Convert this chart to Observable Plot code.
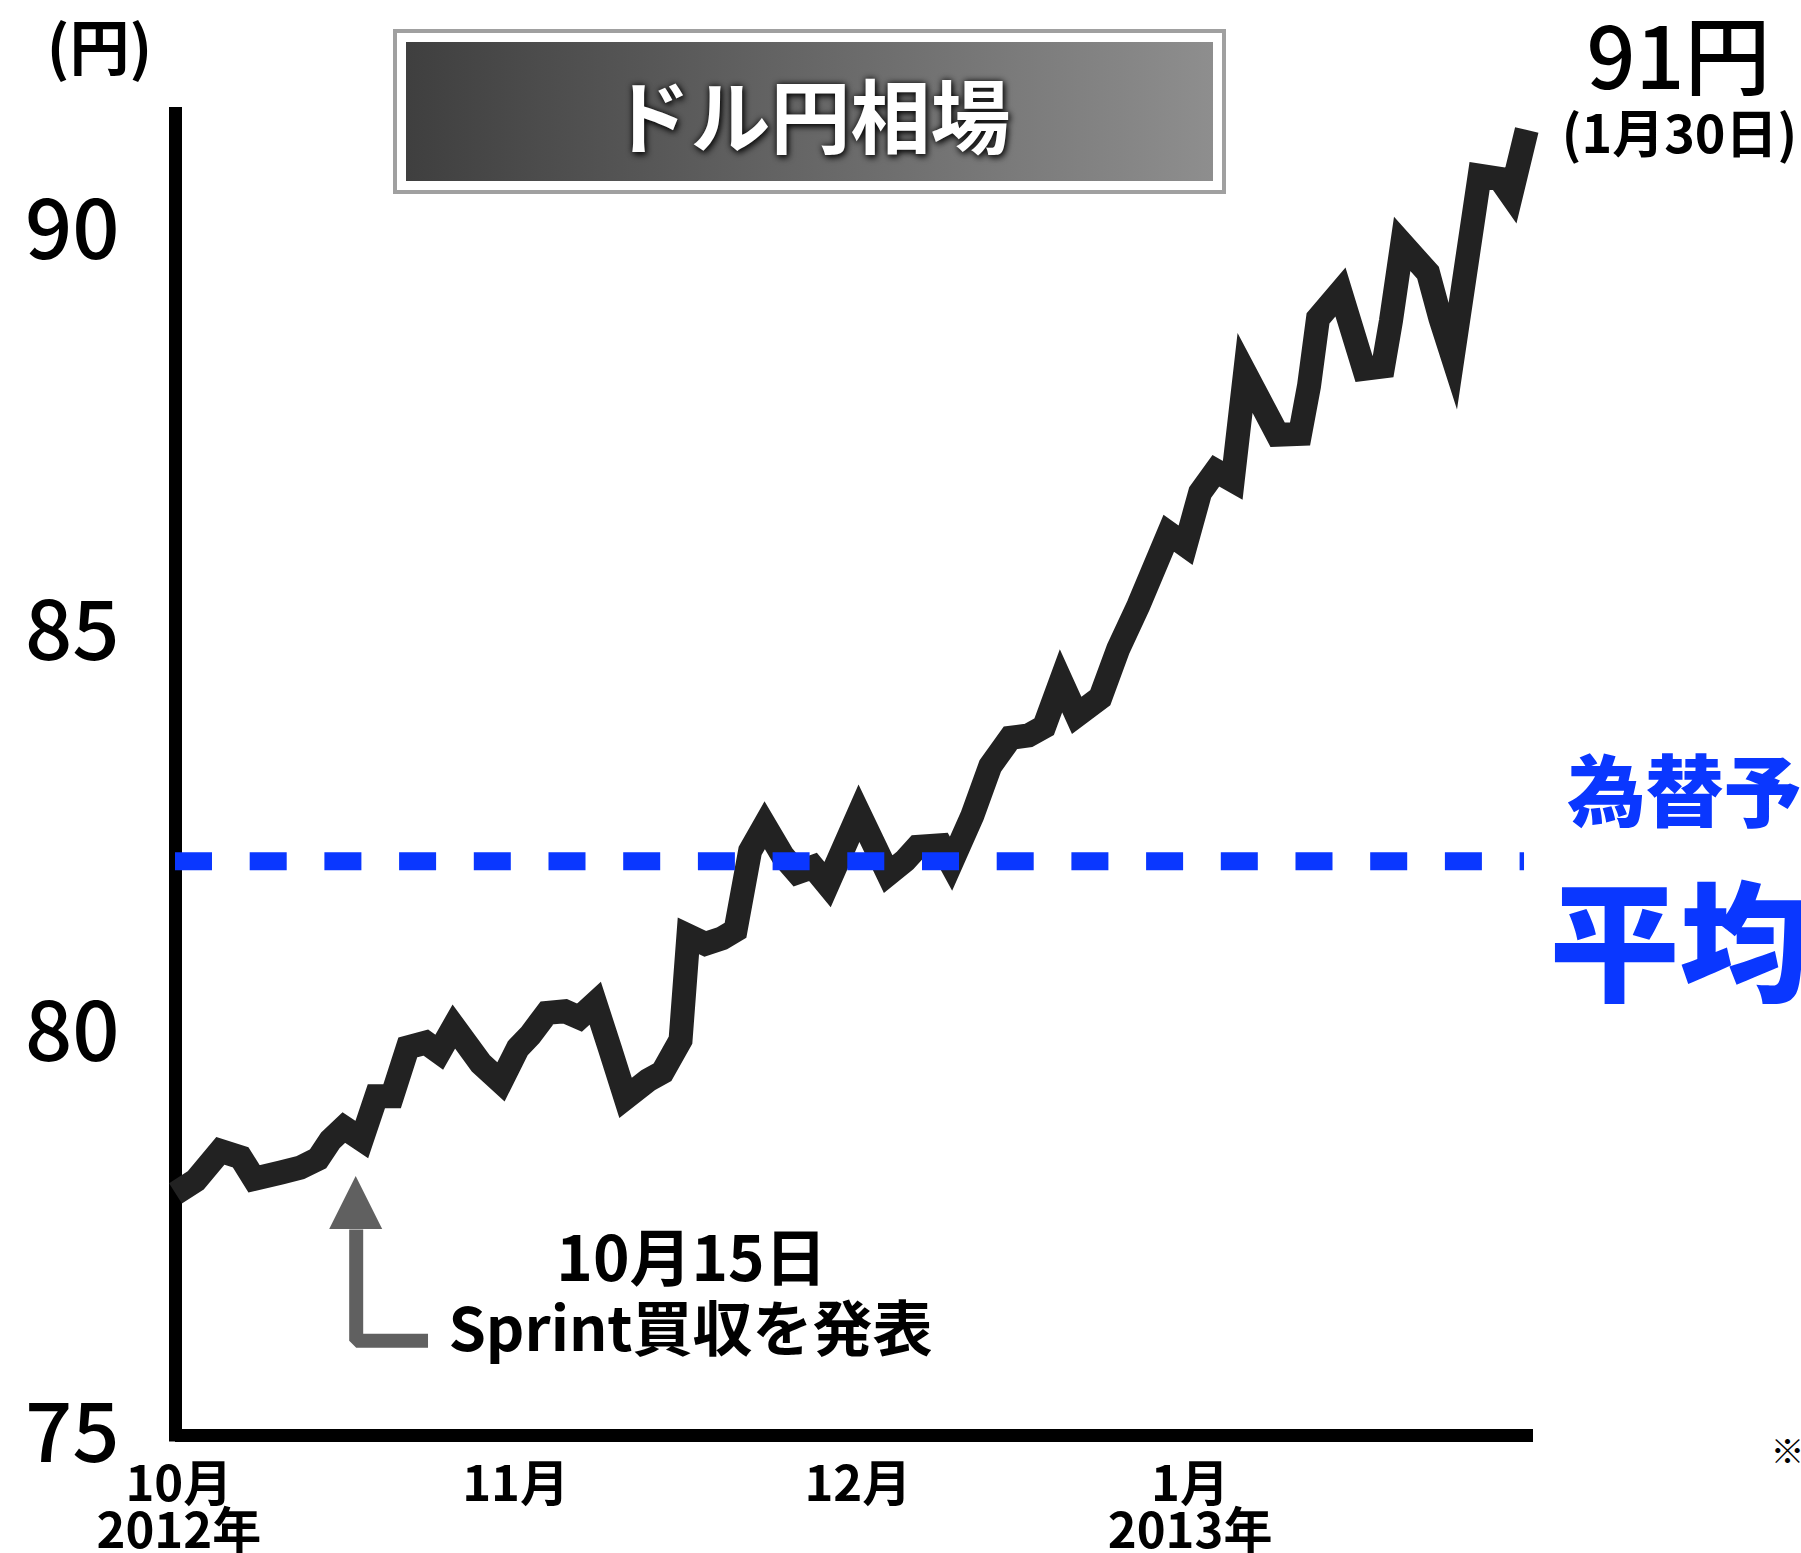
<!DOCTYPE html>
<html>
<head>
<meta charset="utf-8">
<script src="https://cdn.jsdelivr.net/npm/d3@7"></script>
<script src="https://cdn.jsdelivr.net/npm/@observablehq/plot@0.6"></script>
<style>
  html, body { margin: 0; padding: 0; background: #fff; overflow: hidden; }
  #wrap { position: relative; width: 1801px; height: 1553px; overflow: hidden; font-family: "Noto Sans CJK JP", sans-serif; }
  #chart svg { overflow: hidden; }
  #titlebox { position: absolute; left: 393px; top: 29px; width: 807px; height: 139px; border: 4px solid #a0a0a0; padding: 9px; background: #fff; }
  #titleinner { width: 100%; height: 100%; background: linear-gradient(to right, #3f3f3f, #8e8e8e);
    display: flex; align-items: center; justify-content: center; color: #fff;
    font: 700 80px "Noto Sans CJK JP", sans-serif; line-height: 1; padding-left: 2px; box-sizing: border-box;
    text-shadow: 0 0 6px rgba(0,0,0,0.9), 2px 3px 6px rgba(0,0,0,0.7); }
</style>
</head>
<body>
<div id="wrap">
  <div id="chart"></div>
  <div id="titlebox"><div id="titleinner">ドル円相場</div></div>
</div>
<script>
// Day offsets from 1 Oct 2012 and USD/JPY rate
const days = [0.0, 1.8, 4.0, 5.8, 7.0, 9.4, 11.1, 12.7, 13.8, 15.0,
  16.6, 17.9, 19.3, 20.7, 22.3, 23.5, 24.8, 27.2, 29.0, 30.5,
  31.6, 33.1, 34.7, 36.0, 37.4, 38.7, 40.1, 42.1, 43.4, 45.0,
  45.7, 47.2, 48.7, 49.9, 51.2, 52.5, 54.1, 55.4, 56.8, 58.1,
  60.9, 63.5, 65.0, 66.1, 68.2, 69.1, 71.0, 72.6, 74.4, 76.0,
  77.4, 78.9, 80.3, 82.4, 84.0, 85.8, 88.5, 90.0, 91.3, 92.7,
  94.2, 95.3, 98.2, 100.2, 101.0, 101.8, 103.8, 105.9, 107.6, 108.3,
  109.3, 111.6, 112.7, 113.8, 116.2, 118.0, 119.0, 120.4];
const rates = [78.02, 78.18, 78.55, 78.47, 78.20, 78.28, 78.34, 78.45, 78.68, 78.84,
  78.69, 79.23, 79.23, 79.84, 79.90, 79.78, 80.10, 79.64, 79.41, 79.83,
  79.99, 80.27, 80.29, 80.21, 80.39, 79.83, 79.21, 79.43, 79.53, 79.93,
  81.23, 81.13, 81.20, 81.30, 82.29, 82.61, 82.23, 82.02, 82.09, 81.87,
  82.76, 82.00, 82.17, 82.34, 82.36, 82.13, 82.73, 83.35, 83.70, 83.73,
  83.84, 84.41, 83.98, 84.20, 84.81, 85.35, 86.25, 86.10, 86.76, 87.03,
  86.91, 88.25, 87.48, 87.49, 88.09, 88.93, 89.26, 88.30, 88.33, 88.90,
  89.86, 89.50, 88.93, 88.45, 90.71, 90.67, 90.47, 91.28];
const yTicks = [75, 80, 85, 90];
const xTickDays = [0.3, 30.3, 60.8, 90.4];
const xTickLabels = ["10月\n2012年", "11月", "12月", "1月\n2013年"];
const forecastAverage = 82.16;
const forecastEndDay = 120.2;
const sprintDay = 16.1;
const sprintArrowBase = 77.57;
const sprintArrowTip = 78.23;
const sprintArrowFoot = 76.18;
const sprintArrowFootEnd = 22.5;
const sprintArrowHalfWidth = 2.36;

const series = days.map((d, i) => ({day: d, rate: rates[i]}));
const ticksX = xTickDays.map((d, i) => ({day: d, label: xTickLabels[i]}));
const arrowShaft = [
  {day: sprintDay, rate: sprintArrowBase},
  {day: sprintDay, rate: sprintArrowFoot},
  {day: sprintArrowFootEnd, rate: sprintArrowFoot}
];
const arrowHead = [
  {day: sprintDay - sprintArrowHalfWidth, tip: sprintArrowBase},
  {day: sprintDay, tip: sprintArrowTip},
  {day: sprintDay + sprintArrowHalfWidth, tip: sprintArrowBase}
];

const F = "Noto Sans CJK JP";
const blue = "#0a37ff";
const note = (text, o) => Plot.text([text], {text: d => d, frameAnchor: "top-left", lineAnchor: "bottom", fontFamily: F, fill: "#000", ...o});

const chart = Plot.plot({
  width: 1801,
  height: 1553,
  marginLeft: 175,
  marginRight: 268,
  marginTop: 107,
  marginBottom: 118,
  style: {fontFamily: F, background: "#fff"},
  x: {domain: [0, 121], axis: null},
  y: {domain: [75, 91.56], axis: null},
  marks: [
    // axes
    Plot.ruleY([75], {x1: 0, x2: 121, stroke: "#000", strokeWidth: 13}),
    Plot.ruleX([0], {y1: 74.92, y2: 91.56, stroke: "#000", strokeWidth: 13}),
    // y tick labels
    Plot.text(yTicks, {x: 0, y: d => d, text: d => String(d), textAnchor: "end", dx: -56, fontSize: 83, fontWeight: 500, fill: "#000"}),
    // x tick labels
    Plot.text(ticksX, {x: "day", y: 75, text: "label", textAnchor: "middle", lineAnchor: "top", dy: 32, fontSize: 49, fontWeight: 700, lineHeight: 0.96, fill: "#000"}),
    // arrow annotation
    Plot.line(arrowShaft, {x: "day", y: "rate", stroke: "#606060", strokeWidth: 14, strokeLinejoin: "miter", strokeLinecap: "butt"}),
    Plot.areaY(arrowHead, {x: "day", y1: sprintArrowBase, y2: "tip", fill: "#606060"}),
    // price line
    Plot.line(series, {x: "day", y: "rate", stroke: "#222", strokeWidth: 24, strokeLinejoin: "miter", strokeMiterlimit: 10, strokeLinecap: "butt"}),
    // forecast average
    Plot.ruleY([forecastAverage], {x1: 0, x2: forecastEndDay, stroke: blue, strokeWidth: 18, strokeDasharray: "37 37.7"}),
    // texts
    note("(円)", {textAnchor: "middle", dx: -76, dy: -38, fontSize: 60, fontWeight: 700}),
    note("91円", {textAnchor: "middle", dx: 1503, dy: -19, fontSize: 86, fontWeight: 500}),
    note("(1月30日)", {textAnchor: "middle", dx: 1504, dy: 45, fontSize: 52, fontWeight: 700}),
    note("為替予想", {textAnchor: "start", dx: 1392, dy: 713, fontSize: 78, fontWeight: 900, fill: blue}),
    note("平均", {textAnchor: "start", dx: 1374, dy: 883, fontSize: 130, fontWeight: 900, fill: blue}),
    note("10月15日", {textAnchor: "middle", dx: 516, dy: 1173, fontSize: 62, fontWeight: 600}),
    note("Sprint買収を発表", {textAnchor: "middle", dx: 515, dy: 1243, fontSize: 60, fontWeight: 600}),
    note("※", {textAnchor: "start", dx: 1595, dy: 1356, fontSize: 34, fontWeight: 400})
  ]
});
document.getElementById("chart").appendChild(chart);
</script>
</body>
</html>
